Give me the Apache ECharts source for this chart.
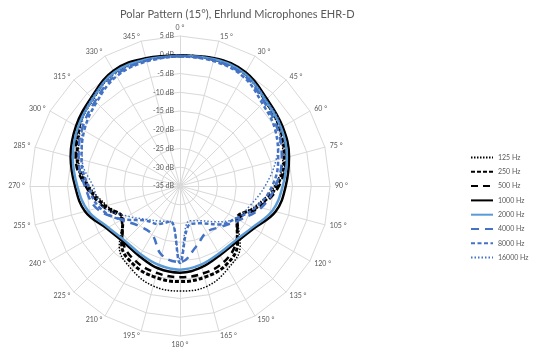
<!DOCTYPE html>
<html>
<head>
<meta charset="utf-8">
<script src="https://cdn.jsdelivr.net/npm/echarts@6/dist/echarts.min.js"></script>
<style>html,body{margin:0;padding:0;background:#fff;}#c{width:534px;height:363px;}</style>
</head>
<body>
<div id="c"></div>
<script>
const angles = [0,15,30,45,60,75,90,105,120,135,150,165,180,195,210,225,240,255,270,285,300,315,330,345];
const angleLabels = ['0 °','15 °','30 °','45 °','60 °','75 °','90 °','105 °','120 °','135 °','150 °','165 °','180 °','195 °','210 °','225 °','240 °','255 °','270 °','285 °','300 °','315 °','330 °','345 °'];
const seriesNames = ['125 Hz','250 Hz','500 Hz','1000 Hz','2000 Hz','4000 Hz','8000 Hz','16000 Hz'];
const hz125  = [-0.3,-0.1,-0.5,-3.0,-4.5,-6.6,-9.8,-14.2,-17.2,-12.3,-9.5,-7.3,-7.0,-7.4,-9.3,-12.1,-17.4,-14.8,-10.8,-7.0,-4.2,-2.3,-0.2,-0.2];
const hz250  = [-0.3,0.0,-0.4,-2.8,-4.2,-6.2,-9.2,-13.6,-17.5,-13.3,-10.6,-9.8,-9.5,-9.8,-10.6,-13.0,-17.4,-14.3,-10.3,-6.6,-3.9,-2.1,0.0,-0.1];
const hz500  = [-0.2,0.1,-0.3,-2.6,-3.9,-5.8,-8.6,-13.0,-17.0,-13.8,-11.6,-10.9,-10.7,-11.0,-11.7,-13.6,-17.0,-13.8,-9.8,-6.2,-3.6,-1.9,0.2,0.0];
const hz1000 = [-0.2,0.3,0.0,-2.2,-3.4,-4.9,-6.8,-8.6,-12.3,-13.8,-13.7,-12.6,-11.9,-12.3,-13.4,-13.8,-12.4,-8.8,-7.0,-4.8,-3.0,-1.6,0.5,0.3];
const hz2000 = [-0.3,0.0,-0.4,-2.7,-3.9,-5.5,-7.6,-9.5,-12.8,-14.3,-14.2,-13.3,-12.7,-13.2,-14.0,-14.3,-12.9,-9.6,-7.6,-5.4,-3.6,-2.1,0.0,-0.1];
const hz4000 = [-0.3,-0.3,-0.9,-3.3,-4.9,-6.9,-9.5,-12.6,-16.8,-19.6,-20.8,-18.3,-14.7,-16.0,-20.1,-19.8,-17.0,-12.0,-9.6,-7.0,-4.8,-3.0,-0.8,-0.4];
const hz8000 = [-0.4,-0.5,-1.3,-3.9,-5.6,-7.9,-10.4,-13.8,-17.7,-20.5,-23.5,-24.5,-14.5,-25.2,-23.3,-22.0,-17.2,-12.8,-10.5,-7.8,-5.5,-3.5,-1.2,-0.6];
const hz16000= [-0.3,-0.3,-0.6,-2.5,-4.2,-8.5,-12.3,-15.5,-17.8,-21.5,-24.3,-25.4,-15.6,-25.2,-24.2,-22.4,-18.9,-13.6,-11.8,-8.0,-4.8,-1.8,-0.5,-0.3];
const allValues = [hz125,hz250,hz500,hz1000,hz2000,hz4000,hz8000,hz16000];
const dbMin = -35, dbMax = 5, dbStep = 5;

const styles = [
  {color:'#000000', width:1.5, type:[1.5,1.5]},
  {color:'#000000', width:3, type:[4,2]},
  {color:'#000000', width:2.5, type:[7,5]},
  {color:'#000000', width:2.5, type:'solid'},
  {color:'#5B9BD5', width:2.5, type:'solid'},
  {color:'#4472C4', width:2.5, type:[8,6]},
  {color:'#4472C4', width:2.5, type:[4,2.5]},
  {color:'#4472C4', width:1.5, type:[1.5,2]}
];

const center = [180, 186];
const radius = 150;
const grey = '#595959';
const gridColor = '#D9D9D9';

// radar places indicators counterclockwise; order names accordingly
const indicators = [];
for (let i = 0; i < angles.length; i++) {
  const idx = (angles.length - i) % angles.length;
  const ind = {name: angleLabels[idx], min: dbMin, max: dbMax};
  if (i === 0) {
    ind.axisLabel = {show: true, formatter: '{value} dB', color: grey, fontSize: 7, fontFamily: 'Lato', margin: 6};
  }
  indicators.push(ind);
}

const series = seriesNames.map((name, s) => {
  const vals = allValues[s];
  const data = angles.map((a, i) => [vals[i], a]);
  data.push([vals[0], 360]);
  return {
    name: name,
    type: 'line',
    coordinateSystem: 'polar',
    data: data,
    symbol: 'none',
    smooth: 0.4,
    lineStyle: {color: styles[s].color, width: styles[s].width, type: styles[s].type},
    itemStyle: {color: styles[s].color},
    silent: true,
    animation: false
  };
});

const chart = echarts.init(document.getElementById('c'), null, {renderer: 'canvas'});
chart.setOption({
  animation: false,
  backgroundColor: '#ffffff',
  title: {
    text: 'Polar Pattern (15°), Ehrlund Microphones EHR-D',
    left: 115, top: 4,
    textStyle: {color: grey, fontSize: 11, fontWeight: 'normal', fontFamily: 'Lato'}
  },
  legend: {
    orient: 'vertical',
    left: 470, top: 153.5,
    itemWidth: 22, itemHeight: 10, itemGap: 6.3,
    padding: 0,
    data: seriesNames,
    itemStyle: {opacity: 0},
    textStyle: {color: grey, fontSize: 7, fontFamily: 'Lato'},
    selectedMode: false
  },
  radar: {
    center: center,
    radius: radius,
    startAngle: 90,
    splitNumber: (dbMax - dbMin) / dbStep,
    shape: 'polygon',
    indicator: indicators,
    nameGap: 5,
    axisName: {color: grey, fontSize: 7, fontFamily: 'Lato'},
    axisLine: {lineStyle: {color: gridColor, width: 1}},
    splitLine: {lineStyle: {color: gridColor, width: 1}},
    splitArea: {show: false},
    axisTick: {show: false},
    axisLabel: {show: false}
  },
  polar: {center: center, radius: radius},
  angleAxis: {type: 'value', min: 0, max: 360, startAngle: 90, clockwise: true, show: false},
  radiusAxis: {type: 'value', min: dbMin, max: dbMax, show: false},
  series: series
});
</script>
</body>
</html>
